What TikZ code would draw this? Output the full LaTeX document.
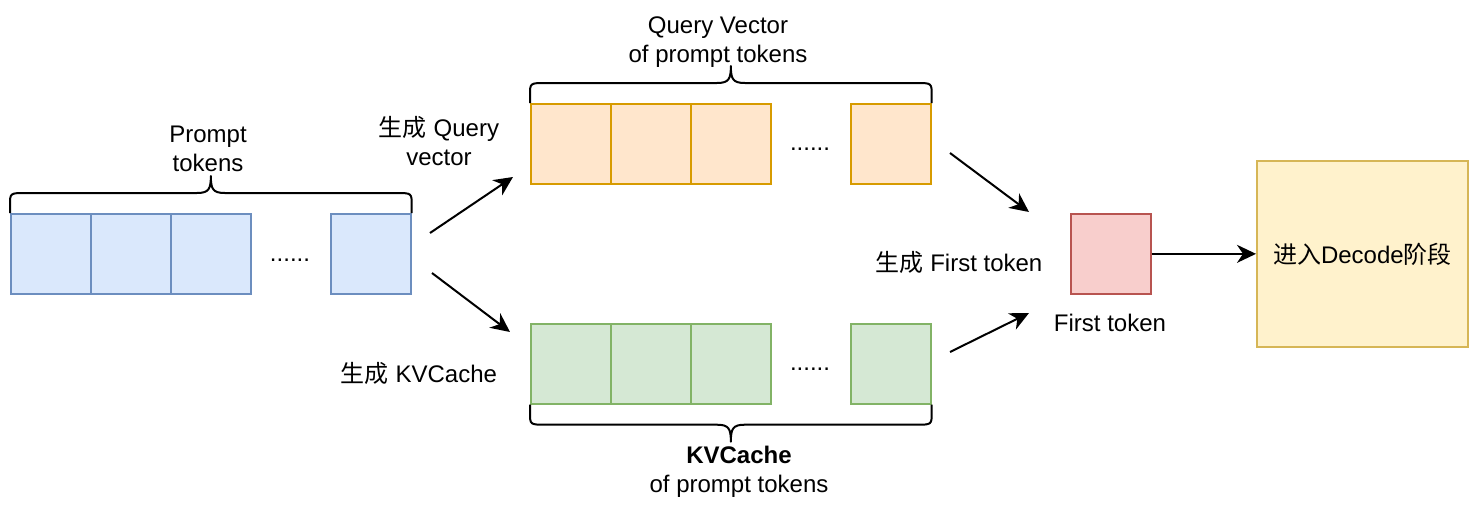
\documentclass[tikz,border=0pt]{standalone}
\usepackage{fontspec}
\setmainfont{Liberation Sans}
\newfontfamily\cjk{Noto Sans CJK SC}
\usetikzlibrary{arrows.meta,calc}
\definecolor{cblue}{HTML}{DAE8FC}\definecolor{sblue}{HTML}{6C8EBF}
\definecolor{corange}{HTML}{FFE6CC}\definecolor{sorange}{HTML}{D79B00}
\definecolor{cgreen}{HTML}{D5E8D4}\definecolor{sgreen}{HTML}{82B366}
\definecolor{cred}{HTML}{F8CECC}\definecolor{sred}{HTML}{B85450}
\definecolor{cyellow}{HTML}{FFF2CC}\definecolor{syellow}{HTML}{D6B656}
\newcommand\mkbrace[3]{%
  \draw[bracestyle] let \p1=(#1), \p2=(#2), \n1={(\x1+\x2)/2} in
   (\x1,\y1) -- (\x1,{\y1+(#3)*8pt})
   .. controls (\x1,{\y1+(#3)*20pt}) .. ({\x1+16pt},{\y1+(#3)*20pt})
   -- ({\n1*1pt-14pt},{\y1+(#3)*20pt})
   .. controls ({\n1*1pt-2pt},{\y1+(#3)*20pt}) and ({\n1*1pt},{\y1+(#3)*24pt}) .. ({\n1*1pt},{\y1+(#3)*37pt})
   .. controls ({\n1*1pt},{\y1+(#3)*24pt}) and ({\n1*1pt+2pt},{\y1+(#3)*20pt}) .. ({\n1*1pt+14pt},{\y1+(#3)*20pt})
   -- ({\x2-16pt},{\y2+(#3)*20pt})
   .. controls (\x2,{\y2+(#3)*20pt}) .. (\x2,{\y2+(#3)*8pt}) -- (\x2,\y2);}
\begin{document}
\begin{tikzpicture}[x=1pt,y=-1pt,
  cell/.style={draw, line width=1.7pt, minimum width=80pt, minimum height=80pt, inner sep=0pt, anchor=north west},
  bluecell/.style={cell, fill=cblue, draw=sblue},
  orangecell/.style={cell, fill=corange, draw=sorange},
  greencell/.style={cell, fill=cgreen, draw=sgreen},
  lbl/.style={font=\fontsize{24}{29}\selectfont, inner sep=0pt, align=center},
  arr/.style={line width=2pt, -{Stealth[length=19pt,width=18pt,inset=6pt]}},
  bracestyle/.style={line width=2pt, line join=round}]
\fill[white] (0,0) rectangle (1478,512);
\useasboundingbox (0,0) rectangle (1478,512);
% prompt tokens
\node[bluecell] (b1) at (10,213) {};
\node[bluecell] (b2) at (90,213) {};
\node[bluecell] (b3) at (170,213) {};
\node[bluecell] (b4) at (330,213) {};
\node[lbl, anchor=base] (bd) at (290,261) {......};
\mkbrace{b1.north west}{b4.north east}{1}
\node[lbl] (tprompt) at (208,150.7) {\strut Prompt\\\strut tokens};
% query vectors
\node[orangecell] (q1) at (530,103) {};
\node[orangecell] (q2) at (610,103) {};
\node[orangecell] (q3) at (690,103) {};
\node[orangecell] (q4) at (850,103) {};
\node[lbl, anchor=base] (qd) at (810,150) {......};
\mkbrace{q1.north west}{q4.north east}{1}
\node[lbl] (tquery) at (718,41.7) {\strut Query Vector\\\strut of prompt tokens};
% kv cache
\node[greencell] (g1) at (530,323) {};
\node[greencell] (g2) at (610,323) {};
\node[greencell] (g3) at (690,323) {};
\node[greencell] (g4) at (850,323) {};
\node[lbl, anchor=base] (gd) at (810,370) {......};
\mkbrace{g1.south west}{g4.south east}{-1}
\node[lbl] (tkv) at (739,472.2) {\strut\textbf{KVCache}\\\strut of prompt tokens};
% labels of the steps
\node[lbl] (tgq) at (439,145) {\strut{\cjk 生成} Query\\\strut vector};
\node[lbl, anchor=base] (tgkv) at (419,382) {{\cjk 生成} KVCache};
\node[lbl, anchor=base] (tgft) at (959,271) {{\cjk 生成} First token};
% first token and decode
\node[cell, fill=cred, draw=sred] (ft) at (1070,213) {};
\node[lbl, anchor=base] (tft) at (1110,331) {First token};
\node[draw=syellow, fill=cyellow, line width=1.7pt, minimum width=211pt, minimum height=186pt,
      inner sep=0pt, anchor=north west, font=\fontsize{24}{29}\selectfont] (dec) at (1256,160)
      {{\cjk 进入}Decode{\cjk 阶段}};
% arrows
\coordinate (a1s) at (430,233); \coordinate (a1e) at (513,177);
\coordinate (a2s) at (432,273); \coordinate (a2e) at (510,332);
\coordinate (a3s) at (950,153); \coordinate (a3e) at (1029,212);
\coordinate (a4s) at (950,352); \coordinate (a4e) at (1029,313);
\draw[arr] (a1s) -- (a1e);
\draw[arr] (a2s) -- (a2e);
\draw[arr] (a3s) -- (a3e);
\draw[arr] (a4s) -- (a4e);
\draw[arr] (ft.east) -- (dec.west);
\end{tikzpicture}
\end{document}
